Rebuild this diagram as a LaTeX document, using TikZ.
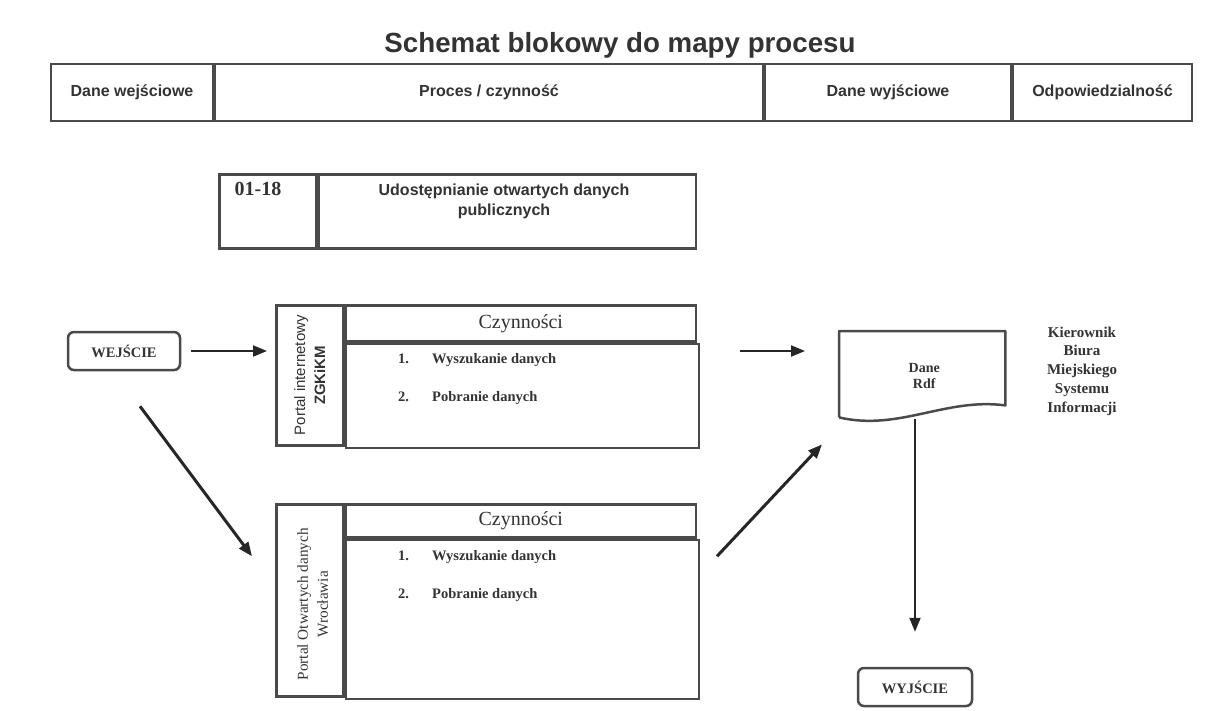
\documentclass[tikz,border=0pt]{standalone}
\usepackage{fontspec}
\setmainfont{Liberation Serif}
\setsansfont{Liberation Sans}
\usepackage{tikz}
\usetikzlibrary{arrows.meta, positioning, calc}
\usepackage{xcolor}
\definecolor{framegray}{HTML}{4A4A4A}
\definecolor{inkgray}{HTML}{333333}
\definecolor{arrowink}{HTML}{262626}

\tikzset{
  cell/.style={rectangle, draw=framegray, line width=2pt, inner sep=0pt, anchor=north west, text=inkgray},
  pill/.style={rectangle, rounded corners=6pt, draw=framegray, line width=2.5pt, minimum width=112pt,
               minimum height=38pt, font=\bfseries\fontsize{14.5}{16}\selectfont, text=inkgray},
  flow/.style={draw=arrowink, line width=2pt, -{Triangle[length=14pt,width=11pt]}},
  hdr/.style={font=\sffamily\bfseries\fontsize{16}{18}\selectfont},
  item/.style={anchor=west, inner sep=0pt, font=\bfseries\fontsize{14.5}{17}\selectfont, text=inkgray},
}

\begin{document}
\begin{tikzpicture}[x=1pt, y=-1pt]
\useasboundingbox (0,0) rectangle (1223,710);

\node[anchor=base, font=\sffamily\bfseries\fontsize{27.7}{30}\selectfont, text=inkgray] (title) at (620,52) {Schemat blokowy do mapy procesu};

\node[cell, hdr, minimum width=162pt, minimum height=57pt] (colin) at (50,63) {Dane wejściowe};
\node[cell, hdr, minimum width=548pt, minimum height=57pt] (colproc) at (colin.north east) {Proces / czynność};
\node[cell, hdr, minimum width=246pt, minimum height=57pt] (colout) at (colproc.north east) {Dane wyjściowe};
\node[cell, hdr, minimum width=179pt, minimum height=57pt] (colresp) at (colout.north east) {Odpowiedzialność};

\node[cell, line width=2.5pt, minimum width=97pt, minimum height=74pt] (procno) at (218,173) {};
\node[cell, line width=2.5pt, minimum width=377pt, minimum height=74pt] (procname) at (procno.north east) {};
\node[font=\bfseries\fontsize{20}{22}\selectfont, text=inkgray] (procnum) at (258,189) {01-18};
\node[font=\sffamily\bfseries\fontsize{16}{20}\selectfont, align=center, text=inkgray] (proctitle) at (504,201)
  {Udostępnianie otwartych danych\\publicznych};

\node[cell, line width=2.5pt, minimum width=67pt, minimum height=140pt] (side1) at (275,304) {};
\node[cell, line width=2.5pt, minimum width=350pt, minimum height=36pt, font=\fontsize{20}{22}\selectfont] (head1) at (side1.north east) {Czynności};
\node[cell, line width=2.5pt, minimum width=353pt, minimum height=104pt] (body1) at (head1.south west) {};
\node[rotate=90, align=center, font=\sffamily\fontsize{15}{20}\selectfont, text=inkgray] (lane1) at (side1.center)
  {Portal internetowy\\\textbf{ZGKiKM}};
\node[item] (find1) at (398,360) {\makebox[34pt][l]{1.}Wyszukanie danych};
\node[item] (get1) at (398,398) {\makebox[34pt][l]{2.}Pobranie danych};

\node[cell, line width=2.5pt, minimum width=67pt, minimum height=192pt] (side2) at (275,503) {};
\node[cell, line width=2.5pt, minimum width=350pt, minimum height=33pt, font=\fontsize{20}{22}\selectfont] (head2) at (side2.north east) {Czynności};
\node[cell, line width=2.5pt, minimum width=353pt, minimum height=159pt] (body2) at (head2.south west) {};
\node[rotate=90, align=center, font=\fontsize{15.2}{20}\selectfont, text=inkgray] (lane2) at ([xshift=3pt,yshift=-4pt]side2.center)
  {Portal Otwartych danych\\Wrocławia};
\node[item] (find2) at (398,557) {\makebox[34pt][l]{1.}Wyszukanie danych};
\node[item] (get2) at (398,595) {\makebox[34pt][l]{2.}Pobranie danych};

\node[pill] (wej) at (124,351) {WEJŚCIE};
\node[pill, minimum width=114pt] (wyj) at (915,687) {WYJŚCIE};

\node[minimum width=166pt, minimum height=86pt, inner sep=0pt, anchor=north west] (doc) at (839,331) {};
\draw[framegray, line width=2.5pt, line join=round] (doc.south west) -- (doc.north west) -- (doc.north east)
  -- ([yshift=12pt]doc.south east) .. controls +(-60pt,8pt) and +(60pt,-14pt) .. (doc.south west);
\node[font=\bfseries\fontsize{14}{16.5}\selectfont, align=center, text=inkgray] (danetxt) at ([xshift=2pt,yshift=-2pt]doc.center) {Dane\\Rdf};

\node[font=\bfseries\fontsize{15}{18.7}\selectfont, align=center, text=inkgray] (resp) at (1082,371)
  {Kierownik\\Biura\\Miejskiego\\Systemu\\Informacji};

\draw[flow, shorten <=10pt, shorten >=8pt] (wej.east) -- (wej.east -| side1.west);
\draw[flow, shorten <=40pt, shorten >=34pt] (wej.east -| body1.east) -- (wej.east -| doc.west);
\draw[flow, line width=3pt] ([xshift=16pt,yshift=-35pt]wej.south) -- ([xshift=-23pt,yshift=44pt]side2.west);
\draw[flow, line width=3pt] ([xshift=17pt,yshift=63pt]body2.east) -- ([xshift=-17pt,yshift=-27pt]doc.south west);
\draw[flow, shorten <=2pt, shorten >=35pt] (wyj.north |- doc.south) -- (wyj.north);
\end{tikzpicture}
\end{document}
